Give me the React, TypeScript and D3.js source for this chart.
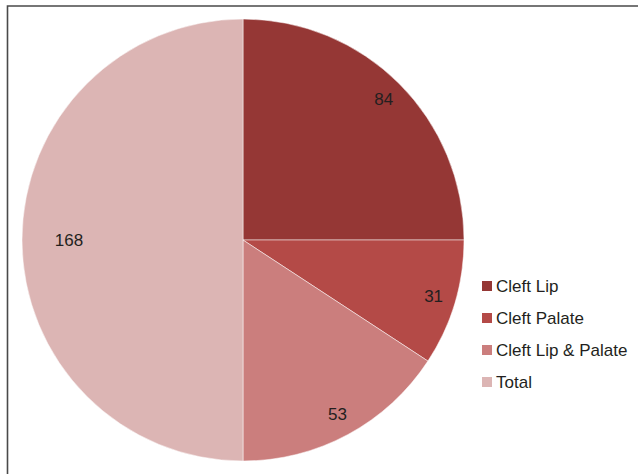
import React from "react";
import * as d3 from "d3";

const categories = ["Cleft Lip", "Cleft Palate", "Cleft Lip & Palate", "Total"];
const values = [84, 31, 53, 168];
const colors = ["#953735", "#b44a47", "#cb7e7d", "#dcb5b4"];

const W = 638;
const H = 474;
const cx = 243;
const cy = 240;
const R = 221;

export default function App() {
  const pie = d3.pie<number>().sort(null).value((d) => d);
  const arcs = pie(values);
  const arc = d3.arc<d3.PieArcDatum<number>>().innerRadius(0).outerRadius(R);

  const labelPos = (a: d3.PieArcDatum<number>, text: string) => {
    const mid = (a.startAngle + a.endAngle) / 2;
    const s = Math.sin(mid);
    const c = -Math.cos(mid);
    const approxW = text.length * 9.4;
    const lr = R * 0.9 - Math.max(0, approxW / 2 - 9.4) * Math.abs(s) * 5.3;
    return [cx + s * lr, cy + c * lr];
  };

  const legendY = d3
    .scalePoint<string>()
    .domain(categories)
    .range([286, 382]);

  return (
    <svg
      width={W}
      height={H}
      style={{ position: "absolute", left: 0, top: 0, background: "#fff" }}
      fontFamily="'Liberation Sans', Arial, sans-serif"
    >
      <rect x={0} y={0} width={W} height={H} fill="#fff" />
      <path d={`M7.5,${H} L7.5,6 L${W},6`} fill="none" stroke="#4a4a4a" strokeWidth={1.6} />
      <g transform={`translate(${cx},${cy})`}>
        {arcs.map((a, i) => (
          <path key={i} d={arc(a) || ""} fill={colors[i]} stroke="#fff" strokeWidth={0.5} />
        ))}
      </g>
      {arcs.map((a, i) => {
        const t = String(values[i]);
        const [x, y] = labelPos(a, t);
        return (
          <text key={i} x={x} y={y} textAnchor="middle" dominantBaseline="central" fontSize={17} fill="#231f20">
            {t}
          </text>
        );
      })}
      {categories.map((c, i) => {
        const y = legendY(c) as number;
        return (
          <g key={c}>
            <rect x={482} y={y - 5} width={10} height={10} fill={colors[i]} />
            <text x={496} y={y} dominantBaseline="central" fontSize={17} fill="#231f20">
              {c}
            </text>
          </g>
        );
      })}
    </svg>
  );
}
